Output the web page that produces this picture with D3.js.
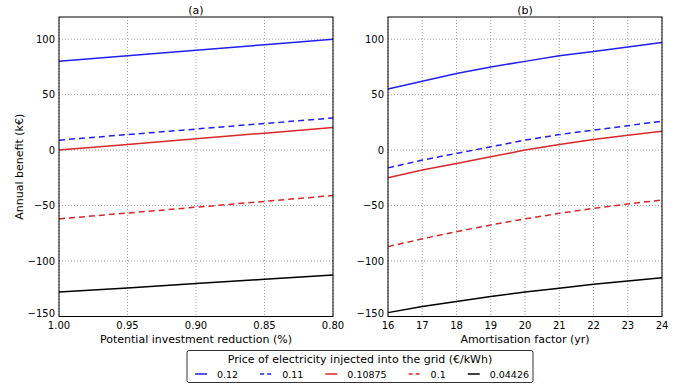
<!DOCTYPE html>
<html>
<head>
<meta charset="utf-8">
<script src="https://cdn.jsdelivr.net/npm/d3@7"></script>
<style>
  body { margin: 0; background: #fff; }
  text { font-family: "DejaVu Sans", sans-serif; fill: #000; }
</style>
</head>
<body>
<svg width="680" height="386"></svg>
<script>
// prices of electricity injected into the grid (€/kWh), one line each
const prices = ['0.12', '0.11', '0.10875', '0.1', '0.04426'];
const colors = ['#2020f0', '#2020f0', '#d82828', '#d82828', '#000000'];
const dashed = [false, true, false, true, false];

// panel (a): potential investment reduction
const reduction = [1.00, 0.95, 0.90, 0.85, 0.80];
const benefitA = [
  [80, 85, 90, 95, 100],
  [9, 14, 19, 24, 29],
  [0, 5.1, 10.2, 15.3, 20.4],
  [-62, -56.7, -51.5, -46.2, -41],
  [-128, -124.2, -120.3, -116.5, -112.6]
];

// panel (b): amortisation factor
const years = [16, 17, 18, 19, 20, 21, 22, 23, 24];
const benefitB = [
  [55, 62, 69, 75, 80, 85, 89, 93, 97],
  [-16, -9, -3, 3, 9, 14, 18, 22, 26],
  [-25, -18, -12, -6, 0, 5, 9.5, 13.5, 17],
  [-87, -80, -73.5, -67.5, -62, -57, -52.5, -48.5, -45],
  [-146.5, -141, -136.5, -132, -128, -124.5, -121, -118, -115]
];

const yTicks = [-150, -100, -50, 0, 50, 100];
const xTicksA = [1.00, 0.95, 0.90, 0.85, 0.80];
const xTicksB = [16, 17, 18, 19, 20, 21, 22, 23, 24];

const svg = d3.select('svg');
const plotTop = 17, plotBottom = 316.5;
const y = d3.scaleLinear().domain([-150, 120]).range([plotBottom, plotTop]);

function panel(x0, x1, domain, ticks, fmt, xs, series, title, xlabel) {
  const x = d3.scaleLinear().domain(domain).range([x0, x1]);
  const g = svg.append('g');

  // grid
  g.selectAll('.gx').data(ticks).enter().append('line')
    .attr('x1', d => x(d)).attr('x2', d => x(d))
    .attr('y1', plotTop).attr('y2', plotBottom)
    .attr('stroke', '#777').attr('stroke-width', 0.7)
    .attr('stroke-dasharray', '1,2');
  g.selectAll('.gy').data(yTicks).enter().append('line')
    .attr('x1', x0).attr('x2', x1)
    .attr('y1', d => y(d)).attr('y2', d => y(d))
    .attr('stroke', '#777').attr('stroke-width', 0.7)
    .attr('stroke-dasharray', '1,2');

  // lines
  const line = d3.line().x((d, i) => x(xs[i])).y(d => y(d));
  series.forEach((s, k) => {
    g.append('path')
      .attr('d', line(s))
      .attr('fill', 'none')
      .attr('stroke', colors[k])
      .attr('stroke-width', 1.5)
      .attr('stroke-dasharray', dashed[k] ? '6,4' : null);
  });

  // frame
  g.append('rect')
    .attr('x', x0).attr('y', plotTop)
    .attr('width', x1 - x0).attr('height', plotBottom - plotTop)
    .attr('fill', 'none').attr('stroke', '#000').attr('stroke-width', 1);

  // tick labels
  g.selectAll('.tx').data(ticks).enter().append('text')
    .attr('x', d => x(d)).attr('y', plotBottom + 12)
    .attr('text-anchor', 'middle').attr('font-size', 10)
    .text(fmt);
  g.selectAll('.ty').data(yTicks).enter().append('text')
    .attr('x', x0 - 4).attr('y', d => y(d) + (d === -150 ? 0 : 3.5))
    .attr('text-anchor', 'end').attr('font-size', 10)
    .text(d => d < 0 ? '\u2212' + Math.abs(d) : d);

  g.append('text')
    .attr('x', (x0 + x1) / 2).attr('y', 14)
    .attr('text-anchor', 'middle').attr('font-size', 11)
    .text(title);
  g.append('text')
    .attr('x', (x0 + x1) / 2).attr('y', plotBottom + 26)
    .attr('text-anchor', 'middle').attr('font-size', 11)
    .text(xlabel);
}

panel(59, 333, [1.00, 0.80], xTicksA, d => d.toFixed(2), reduction, benefitA,
  '(a)', 'Potential investment reduction (%)');
panel(388, 662, [16, 24], xTicksB, d => d, years, benefitB,
  '(b)', 'Amortisation factor (yr)');

svg.append('text')
  .attr('transform', 'translate(23,' + ((plotTop + plotBottom) / 2) + ') rotate(-90)')
  .attr('text-anchor', 'middle').attr('font-size', 11)
  .text('Annual benefit (k€)');

// legend
const lg = svg.append('g');
lg.append('rect')
  .attr('x', 187).attr('y', 350.5).attr('width', 346).attr('height', 32)
  .attr('rx', 2).attr('fill', '#fff')
  .attr('stroke', '#000').attr('stroke-width', 0.8);
lg.append('text')
  .attr('x', 360).attr('y', 363)
  .attr('text-anchor', 'middle').attr('font-size', 11)
  .text('Price of electricity injected into the grid (€/kWh)');

let cx = 195;
prices.forEach((p, k) => {
  lg.append('line')
    .attr('x1', cx).attr('x2', cx + 12)
    .attr('y1', 374).attr('y2', 374)
    .attr('stroke', colors[k]).attr('stroke-width', 1.5)
    .attr('stroke-dasharray', dashed[k] ? '4,3' : null);
  const t = lg.append('text')
    .attr('x', cx + 22).attr('y', 377.5)
    .attr('font-size', 9.5)
    .text(p);
  cx += 22 + t.node().getComputedTextLength() + 22;
});
</script>
</body>
</html>
